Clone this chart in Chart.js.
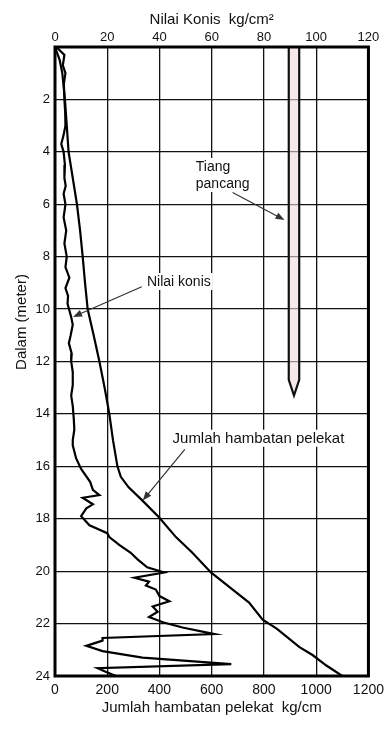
<!DOCTYPE html>
<html>
<head>
<meta charset="utf-8">
<script src="https://cdn.jsdelivr.net/npm/chart.js@4.4.1/dist/chart.umd.min.js"></script>
<style>
  html, body { margin: 0; padding: 0; background: #fff; }
  #wrap { width: 390px; height: 740px; }
</style>
</head>
<body>
<div id="wrap"><canvas id="chart" width="390" height="740"></canvas></div>
<script>
// Nilai konis (kg/cm2, top axis) against depth (m)
const konisDepth = [0, 0.3, 0.7, 1.0, 1.4, 2.0, 2.5, 3.0, 3.4, 3.7, 4.0, 4.5, 5.0, 5.3, 5.6, 6.0, 6.5, 7.0, 7.5, 8.0,
  8.4, 8.8, 9.2, 9.5, 9.8, 10.3, 10.6, 11.0, 11.3, 11.7, 12.0, 12.4, 12.9, 13.3, 13.7, 14.2, 14.6, 15.0, 15.2, 15.7,
  16.1, 16.6, 16.9, 17.1, 17.2, 17.45, 17.6, 17.9, 18.25, 18.55, 18.7, 19.0, 19.3, 19.55, 19.85, 20.05, 20.25, 20.4,
  20.55, 20.7, 20.95, 21.15, 21.35, 21.55, 21.75, 21.95, 22.15, 22.4, 22.55, 22.65, 22.85, 23.05, 23.3, 23.55, 23.7,
  23.85, 24.0];
const konisValue = [0.5, 3.6, 3.0, 4.0, 3.4, 3.6, 3.9, 4.0, 3.2, 2.4, 3.3, 3.8, 3.6, 4.1, 3.3, 4.0, 3.3, 4.3, 3.6, 4.5,
  4.0, 5.5, 4.0, 5.0, 4.8, 6.2, 6.8, 6.0, 5.3, 6.4, 6.2, 6.8, 6.8, 6.2, 6.8, 7.2, 7.4, 6.8, 6.8, 8.1,
  10, 13.5, 14.5, 17, 10.6, 14.5, 12, 10, 13.2, 20, 20.8, 24.6, 29, 31.6, 35.3, 41.8, 30.4, 36,
  34.8, 38.6, 40, 43.8, 37.4, 39.3, 36, 41.3, 48.8, 61, 18.2, 18.2, 12, 18.2, 33.5, 67.5, 16.3,
  19.6, 23.4];

// Jumlah hambatan pelekat (kg/cm, bottom axis) against depth (m)
const frictionDepth = [0, 0.5, 1, 2, 3, 4, 5, 6, 7, 8, 9, 10, 11, 12, 13, 14, 15, 16, 16.4, 16.8, 17.3, 17.95,
  18.7, 19.3, 20.05, 20.6, 21.2, 21.85, 22.2, 22.9, 23.2, 23.6, 24];
const frictionValue = [0, 18, 28, 38, 45, 52, 68, 84, 96, 106, 115, 125, 148, 170, 190, 208, 222, 239, 252, 282, 334, 399,
  463, 526, 597, 667, 743, 795, 850, 936, 986, 1039, 1100];

// Tiang pancang outline (kg/cm2 scale, depth m)
const pileX = [89.5, 89.5, 91.5, 93.5, 93.5];
const pileDepth = [0, 12.7, 13.3, 12.7, 0];

const konisTicks = [0, 20, 40, 60, 80, 100, 120];
const frictionTicks = [0, 200, 400, 600, 800, 1000, 1200];
const depthTicks = [0, 2, 4, 6, 8, 10, 12, 14, 16, 18, 20, 22, 24];

const FONT = '"Liberation Sans", Arial, sans-serif';
Chart.defaults.font.family = FONT;
Chart.defaults.color = '#111';

const toPoints = (xs, ys) => xs.map((x, i) => ({ x: x, y: ys[i] }));

function drawArrow(ctx, x1, y1, x2, y2) {
  const ang = Math.atan2(y2 - y1, x2 - x1);
  ctx.beginPath();
  ctx.moveTo(x1, y1);
  ctx.lineTo(x2 - 6 * Math.cos(ang), y2 - 6 * Math.sin(ang));
  ctx.stroke();
  ctx.beginPath();
  ctx.moveTo(x2, y2);
  ctx.lineTo(x2 - 9 * Math.cos(ang) + 3.5 * Math.sin(ang), y2 - 9 * Math.sin(ang) - 3.5 * Math.cos(ang));
  ctx.lineTo(x2 - 9 * Math.cos(ang) - 3.5 * Math.sin(ang), y2 - 9 * Math.sin(ang) + 3.5 * Math.cos(ang));
  ctx.closePath();
  ctx.fill();
}

function label(ctx, text, x, y) {
  const w = ctx.measureText(text).width;
  ctx.fillStyle = '#fff';
  ctx.fillRect(x - 2, y - 13, w + 4, 17);
  ctx.fillStyle = '#111';
  ctx.fillText(text, x, y);
}

const notes = {
  id: 'notes',
  afterDatasetsDraw(chart) {
    const { ctx, chartArea, scales } = chart;
    const xs = scales.xTop, ys = scales.y;
    const px = v => xs.getPixelForValue(v);
    const py = v => ys.getPixelForValue(v);

    ctx.save();
    // frame
    ctx.strokeStyle = '#000';
    ctx.lineWidth = 3;
    ctx.strokeRect(chartArea.left, chartArea.top, chartArea.right - chartArea.left, chartArea.bottom - chartArea.top);

    ctx.font = '14px ' + FONT;
    ctx.textAlign = 'left';
    ctx.textBaseline = 'alphabetic';
    label(ctx, 'Tiang', px(53.9), py(4.73));
    label(ctx, 'pancang', px(53.9), py(5.38));
    label(ctx, 'Nilai konis', px(35.2), py(9.12));
    ctx.font = '15px ' + FONT;
    label(ctx, 'Jumlah hambatan pelekat', px(45.0), py(15.1));

    ctx.strokeStyle = '#333';
    ctx.fillStyle = '#333';
    ctx.lineWidth = 1.2;
    drawArrow(ctx, px(68), py(5.55), px(87.9), py(6.6));
    drawArrow(ctx, px(33.2), py(9.15), px(6.9), py(10.3));
    drawArrow(ctx, px(49.7), py(15.35), px(33.6), py(17.3));

    // y axis title
    ctx.fillStyle = '#111';
    ctx.font = '15px ' + FONT;
    ctx.translate(22, 322);
    ctx.rotate(-Math.PI / 2);
    ctx.textAlign = 'center';
    ctx.textBaseline = 'middle';
    ctx.fillText('Dalam (meter)', 0, 0);
    ctx.restore();
  }
};

new Chart(document.getElementById('chart'), {
  type: 'scatter',
  data: {
    datasets: [
      {
        label: 'Tiang pancang',
        data: toPoints(pileX, pileDepth),
        xAxisID: 'xTop',
        showLine: true,
        fill: 'shape',
        backgroundColor: 'rgba(240, 218, 218, 0.6)',
        borderColor: '#111',
        borderWidth: 2.2,
        pointRadius: 0
      },
      {
        label: 'Nilai konis',
        data: toPoints(konisValue, konisDepth),
        xAxisID: 'xTop',
        showLine: true,
        borderColor: '#000',
        borderWidth: 2.2,
        pointRadius: 0,
        tension: 0
      },
      {
        label: 'Jumlah hambatan pelekat',
        data: toPoints(frictionValue, frictionDepth),
        xAxisID: 'x',
        showLine: true,
        borderColor: '#000',
        borderWidth: 2.2,
        pointRadius: 0,
        tension: 0
      }
    ]
  },
  options: {
    responsive: false,
    animation: false,
    devicePixelRatio: 1,
    layout: { padding: { left: 0, right: 21, top: 0, bottom: 0 } },
    plugins: { legend: { display: false }, tooltip: { enabled: false } },
    scales: {
      x: {
        type: 'linear',
        position: 'bottom',
        min: frictionTicks[0],
        max: frictionTicks[frictionTicks.length - 1],
        afterBuildTicks: s => { s.ticks = frictionTicks.map(v => ({ value: v })); },
        afterFit: s => { s.height = 64; },
        grid: { color: '#111', lineWidth: 1.3, drawTicks: false },
        border: { display: false },
        ticks: { padding: 6, font: { size: 14 }, maxRotation: 0, callback: v => String(v) },
        title: { display: true, text: 'Jumlah hambatan pelekat  kg/cm', font: { size: 15 }, padding: { top: 0, bottom: 23 } }
      },
      xTop: {
        type: 'linear',
        position: 'top',
        min: konisTicks[0],
        max: konisTicks[konisTicks.length - 1],
        afterBuildTicks: s => { s.ticks = konisTicks.map(v => ({ value: v })); },
        afterFit: s => { s.height = 47; },
        grid: { display: false, drawTicks: false },
        border: { display: false },
        ticks: { padding: 2, font: { size: 13 }, maxRotation: 0, callback: v => String(v) },
        title: { display: true, text: 'Nilai Konis  kg/cm²', font: { size: 15 }, padding: { top: 10.5, bottom: 0 } }
      },
      y: {
        type: 'linear',
        reverse: true,
        min: depthTicks[0],
        max: depthTicks[depthTicks.length - 1],
        afterBuildTicks: s => { s.ticks = depthTicks.map(v => ({ value: v })); },
        afterFit: s => { s.width = 55; },
        grid: { color: '#111', lineWidth: 1.3, drawTicks: false },
        border: { display: false },
        ticks: { padding: 5, font: { size: 13 }, callback: v => (v === 0 ? '' : String(v)) }
      }
    }
  },
  plugins: [notes]
});
</script>
</body>
</html>
